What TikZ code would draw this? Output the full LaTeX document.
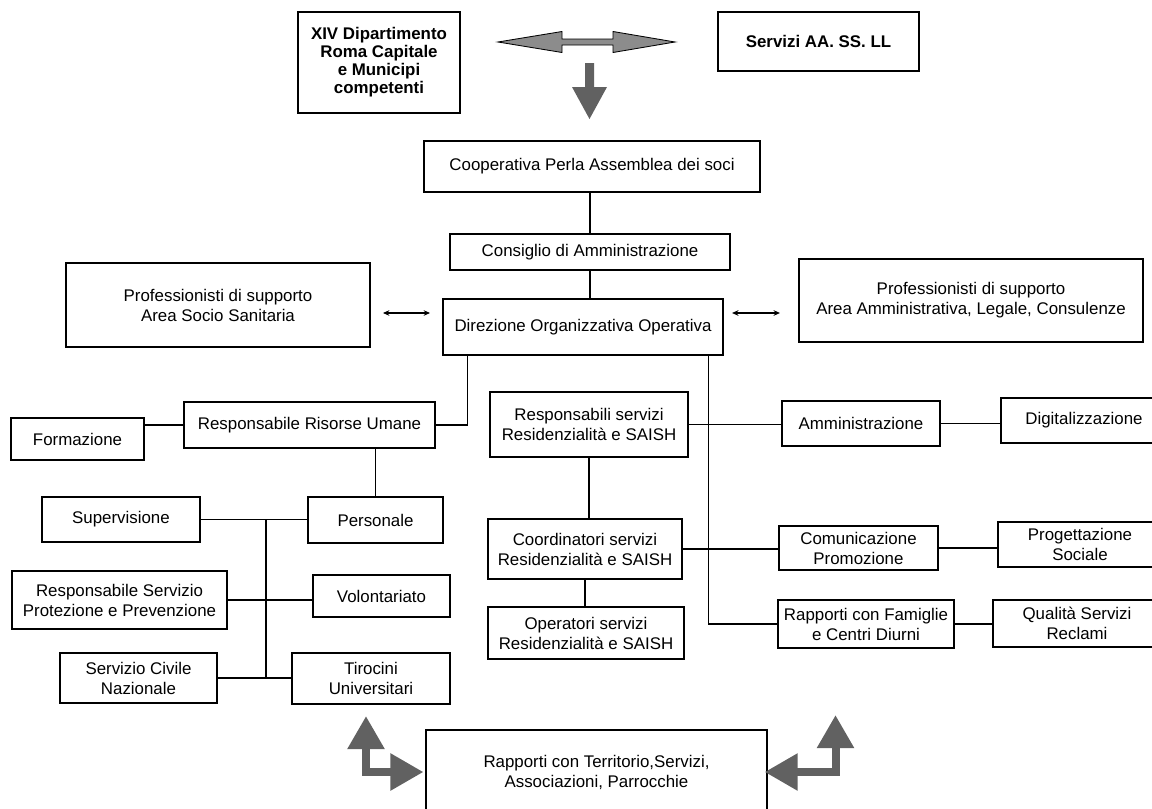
\documentclass[tikz,border=0pt]{standalone}
\usepackage{fontspec}
\setmainfont{Liberation Sans}
\usetikzlibrary{arrows.meta}

\begin{document}
\begin{tikzpicture}[x=0.025cm, y=-0.025cm,
  box/.style={draw, line width=1.5pt, align=center, inner sep=2pt, font=\fontsize{12}{14.2}\selectfont},
  hbox/.style={box, font=\fontsize{12}{12.8}\selectfont\bfseries},
  link/.style={line width=0.75pt},
  thin arrow/.style={link, {Stealth[length=4.5pt,width=4pt]}-{Stealth[length=4.5pt,width=4pt]}},
  bigarrow/.style={line width=5.7pt, black!62, line join=miter, {Triangle[width=25pt,length=23.5pt]}-{Triangle[width=25pt,length=23.5pt]}}]
\useasboundingbox (0,0) rectangle (1152,809);

\node[hbox, minimum width=4.05cm, minimum height=2.525cm] (xiv) at (379,62.5) {XIV Dipartimento\\Roma Capitale\\e Municipi\\competenti};
\node[hbox, minimum width=5.025cm, minimum height=1.475cm] (asl) at (818.5,41.5) {Servizi AA. SS. LL};
\filldraw[fill=black!45, line width=0.6pt] (498,42) -- (562,31.5) -- (562,39) -- (613,39) -- (613,31.5) -- (675,42) -- (613,52.5) -- (613,45) -- (562,45) -- (562,52.5) -- cycle;
\fill[black!62] (585,63) -- (594,63) -- (594,87) -- (607,87) -- (589.5,119) -- (572,87) -- (585,87) -- cycle;

\node[box, minimum width=8.4cm, minimum height=1.275cm] (coop) at (592,166.5) {Cooperativa Perla Assemblea dei soci};
\node[box, minimum width=7cm, minimum height=0.9cm] (cda) at (590,252) {Consiglio di Amministrazione};
\node[box, minimum width=7cm, minimum height=1.4cm] (dir) at (583,327) {Direzione Organizzativa Operativa};
\node[box, minimum width=7.6cm, minimum height=2.1cm] (lprof) at (218,305) {Professionisti di supporto\\Area Socio Sanitaria};
\node[box, minimum width=8.6cm, minimum height=2.075cm] (rprof) at (971,300.5) {Professionisti di supporto\\Area Amministrativa, Legale, Consulenze};

\node[box, minimum width=3.325cm, minimum height=1.05cm] (form) at (77.5,439) {Formazione};
\node[box, minimum width=6.275cm, minimum height=1.15cm] (rru) at (309.5,425) {Responsabile Risorse Umane};
\node[box, minimum width=3.375cm, minimum height=1.15cm] (pers) at (375.5,520) {Personale};
\node[box, minimum width=3.95cm, minimum height=1.125cm] (sup) at (121,519.5) {Supervisione};
\node[box, minimum width=5.375cm, minimum height=1.45cm] (rspp) at (119.5,600) {Responsabile Servizio\\Protezione e Prevenzione};
\node[box, minimum width=3.425cm, minimum height=1.05cm] (vol) at (381.5,596) {Volontariato};
\node[box, minimum width=3.925cm, minimum height=1.25cm] (scn) at (138.5,678) {Servizio Civile\\Nazionale};
\node[box, minimum width=3.95cm, minimum height=1.275cm] (tir) at (371,678.5) {Tirocini\\Universitari};

\node[box, minimum width=4.95cm, minimum height=1.625cm] (resp) at (589,424.5) {Responsabili servizi\\Residenzialità e SAISH};
\node[box, minimum width=4.85cm, minimum height=1.5cm] (coord) at (585,549) {Coordinatori servizi\\Residenzialità e SAISH};
\node[box, minimum width=4.9cm, minimum height=1.3cm] (oper) at (586,633) {Operatori servizi\\Residenzialità e SAISH};

\node[box, minimum width=3.95cm, minimum height=1.125cm] (amm) at (861,423.5) {Amministrazione};
\node[box, minimum width=4.15cm, minimum height=1.125cm] (digit) at (1084,420.5) {Digitalizzazione};
\node[box, minimum width=3.975cm, minimum height=1.1cm] (com) at (858.5,548) {Comunicazione\\Promozione};
\node[box, minimum width=4.1cm, minimum height=1.125cm] (prog) at (1080,544.5) {Progettazione\\Sociale};
\node[box, minimum width=4.4cm, minimum height=1.2cm] (fam) at (866,624) {Rapporti con Famiglie\\e Centri Diurni};
\node[box, minimum width=4.2cm, minimum height=1.175cm] (qual) at (1077,623.5) {Qualità Servizi\\Reclami};

\node[box, minimum width=8.525cm, minimum height=2.1cm] (terr) at (596.5,772) {Rapporti con Territorio,Servizi,\\Associazioni, Parrocchie};

\draw[link] (cda.north) -- (cda.north |- coop.south);
\draw[link] (cda.south) -- (cda.south |- dir.north);
\coordinate (ay) at (0,313);
\draw[thin arrow, shorten <=8.5pt, shorten >=8.5pt] (lprof.east |- ay) -- (dir.west |- ay);
\draw[thin arrow, shorten <=5.7pt, shorten >=12.8pt] (dir.east |- ay) -- (rprof.west |- ay);

\draw[link] ([xshift=0.65cm]dir.south west) |- (rru.east);
\draw[link] ([xshift=-0.4cm]dir.south east) |- (fam.west);
\draw[link] (rru.west) -- (rru.west -| form.east);
\draw[link] (pers.north) -- (pers.north |- rru.south);
\draw[link] (sup.east) -- (sup.east -| pers.west);
\draw[link] (rspp.east) -- (rspp.east -| vol.west);
\draw[link] (scn.east) -- (scn.east -| tir.west);
\coordinate (bus) at (266,0);
\draw[link] (bus |- sup.east) -- (bus |- scn.east);

\draw[link] (resp.south) -- (resp.south |- coord.north);
\draw[link] (coord.south) -- (coord.south |- oper.north);
\draw[link] (resp.east) -- (resp.east -| amm.west);
\draw[link] (amm.east) -- (amm.east -| digit.west);
\draw[link] (coord.east) -- (coord.east -| com.west);
\draw[link] (com.east) -- (com.east -| prog.west);
\draw[link] (fam.east) -- (fam.east -| qual.west);

\coordinate (lup) at (366,716);
\coordinate (rup) at (835.5,715);
\draw[bigarrow, shorten >=1pt] (lup) |- (terr.west);
\draw[bigarrow, shorten <=-2.5pt] (terr.east) -| (rup);

\end{tikzpicture}
\end{document}
